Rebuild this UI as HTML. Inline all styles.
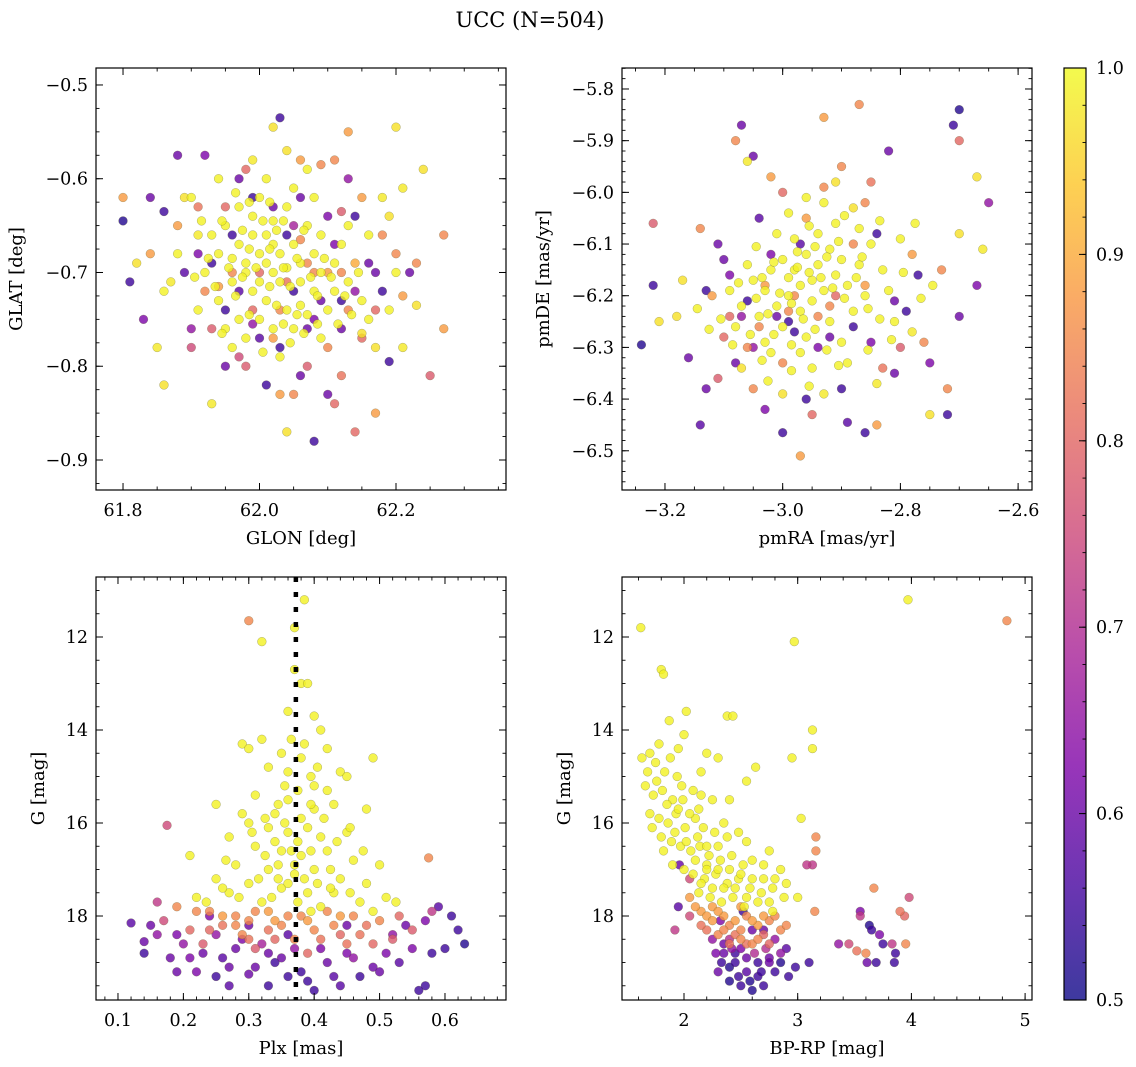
<!DOCTYPE html>
<html><head><meta charset="utf-8">
<style>
html,body{margin:0;padding:0;background:#fff;}
svg{display:block;font-family:"DejaVu Serif","Liberation Serif",serif;}
</style></head>
<body>
<svg id="fig" width="1136" height="1067" viewBox="0 0 1136 1067" xmlns="http://www.w3.org/2000/svg">
<defs>
<linearGradient id="cbgrad" x1="0" y1="1" x2="0" y2="0">
<stop offset="0" stop-color="#0d0887"/>
<stop offset="0.125" stop-color="#47039f"/>
<stop offset="0.25" stop-color="#7e03a8"/>
<stop offset="0.375" stop-color="#a82296"/>
<stop offset="0.5" stop-color="#cc4778"/>
<stop offset="0.625" stop-color="#e66c5c"/>
<stop offset="0.75" stop-color="#f89540"/>
<stop offset="0.875" stop-color="#fdc527"/>
<stop offset="1" stop-color="#f0f921"/>
</linearGradient>
</defs>
<text x="530" y="27" text-anchor="middle" font-size="21">UCC (N=504)</text>
<g id="layer"></g>
</svg>
<script>
// ---- data: [x, y, probability] ----
const posData = [
[61.80,-0.645,0.52],[61.81,-0.71,0.55],[61.88,-0.575,0.6],[61.92,-0.575,0.62],[62.03,-0.535,0.55],[62.08,-0.88,0.55],[62.06,-0.81,0.6],[62.19,-0.795,0.55],[62.22,-0.70,0.6],[61.86,-0.635,0.55],[61.83,-0.75,0.62],[61.89,-0.70,0.58],[61.99,-0.62,0.55],[62.02,-0.63,0.6],[62.10,-0.64,0.62],[62.14,-0.72,0.65],[61.95,-0.74,0.55],[62.07,-0.76,0.6],[62.00,-0.77,0.58],[62.13,-0.60,0.65],[61.97,-0.60,0.6],[62.12,-0.76,0.6],[61.93,-0.69,0.55],[62.05,-0.72,0.55],[62.16,-0.69,0.6],[61.90,-0.76,0.65],[62.03,-0.78,0.55],[62.11,-0.67,0.62],[61.96,-0.66,0.55],[62.09,-0.73,0.6],[61.84,-0.62,0.6],[62.05,-0.65,0.68],[62.18,-0.72,0.55],
[61.80,-0.62,0.88],[62.27,-0.66,0.85],[62.27,-0.76,0.88],[62.25,-0.81,0.78],[62.05,-0.83,0.85],[62.11,-0.84,0.8],[62.17,-0.85,0.88],[62.14,-0.87,0.8],[61.90,-0.78,0.75],[61.84,-0.68,0.88],[62.13,-0.55,0.88],[62.09,-0.585,0.85],[62.18,-0.66,0.85],[62.21,-0.725,0.88],[61.98,-0.80,0.78],[62.03,-0.74,0.85],[62.08,-0.70,0.85],[61.94,-0.715,0.88],[62.06,-0.665,0.85],[62.00,-0.70,0.8],[62.12,-0.70,0.85],[62.17,-0.74,0.8],[61.88,-0.65,0.88],[62.15,-0.62,0.88],[61.95,-0.63,0.8],[62.03,-0.83,0.88],[62.10,-0.78,0.85],[61.92,-0.72,0.85],[62.07,-0.80,0.78],[61.98,-0.59,0.8],[62.12,-0.635,0.78],[62.14,-0.69,0.9],
[61.86,-0.82,0.97],[61.93,-0.84,0.98],[62.04,-0.87,0.97],[62.20,-0.545,0.97],[62.21,-0.78,0.98],[62.23,-0.735,0.97],[62.19,-0.64,0.97],[62.21,-0.61,0.98],[61.82,-0.69,0.97],[61.87,-0.71,0.98],[62.02,-0.545,0.97],[61.99,-0.58,0.98],[62.04,-0.57,0.97],[61.85,-0.78,0.98],[62.15,-0.765,0.97],[62.24,-0.59,0.97],[61.91,-0.66,0.98],[61.89,-0.62,0.97],[62.17,-0.78,0.97],[62.18,-0.62,0.98],
[61.95,-0.65,0.99],[61.97,-0.67,0.99],[61.99,-0.64,0.99],[62.01,-0.66,0.99],[62.03,-0.68,0.99],[62.05,-0.67,0.99],[61.98,-0.69,0.99],[62.00,-0.68,0.99],[62.02,-0.70,0.99],[62.04,-0.695,0.99],[62.06,-0.69,0.99],[62.08,-0.68,0.99],[61.96,-0.71,0.99],[61.99,-0.72,0.99],[62.01,-0.73,0.99],[62.03,-0.71,0.99],[62.06,-0.71,0.99],[62.09,-0.70,0.99],[62.11,-0.72,0.99],[61.97,-0.75,0.99],[62.00,-0.75,0.99],[62.02,-0.76,0.99],[62.04,-0.74,0.99],[62.07,-0.745,0.99],[61.94,-0.68,0.99],[61.92,-0.70,0.99],[61.93,-0.66,0.99],[62.00,-0.62,0.99],[62.02,-0.645,0.99],[62.04,-0.63,0.99],[62.07,-0.65,0.99],[62.09,-0.66,0.99],[62.11,-0.69,0.99],[62.13,-0.71,0.99],[62.10,-0.74,0.99],[61.98,-0.77,0.99],[61.95,-0.76,0.99],[61.94,-0.73,0.99],[62.05,-0.76,0.99],[62.08,-0.72,0.99],[61.99,-0.66,0.99],[62.02,-0.67,0.99],[62.00,-0.71,0.99],[61.97,-0.63,0.99],[62.01,-0.60,0.99],[62.05,-0.61,0.99],[62.15,-0.73,0.99],[62.16,-0.75,0.99],[61.96,-0.78,0.99],[62.03,-0.79,0.99],[62.09,-0.77,0.99],[61.91,-0.74,0.99],[62.12,-0.67,0.99],[62.06,-0.735,0.99],[62.01,-0.69,0.99],[61.98,-0.70,0.99]
];
const posDataExtra = [
[61.96,-0.685,0.99],[61.975,-0.655,0.99],[61.985,-0.675,0.99],[61.995,-0.695,0.99],[62.005,-0.645,0.99],[62.015,-0.675,0.99],[62.025,-0.655,0.99],[62.035,-0.695,0.99],[62.045,-0.715,0.99],[62.055,-0.685,0.99],[62.065,-0.655,0.99],[62.075,-0.705,0.99],[62.085,-0.725,0.99],[61.965,-0.725,0.99],[61.975,-0.705,0.99],[61.985,-0.745,0.99],[62.015,-0.715,0.99],[62.025,-0.735,0.99],[62.035,-0.755,0.99],[62.055,-0.745,0.99],[61.955,-0.695,0.99],[61.945,-0.645,0.99],[61.965,-0.615,0.99],[61.985,-0.625,0.99],[62.015,-0.625,0.99],[62.035,-0.645,0.99],[62.095,-0.685,0.99],[62.105,-0.705,0.99],[62.125,-0.725,0.99],[62.135,-0.745,0.99],[62.115,-0.755,0.99],[61.935,-0.715,0.99],[61.925,-0.685,0.99],[61.915,-0.645,0.99],[61.905,-0.705,0.99],[61.945,-0.765,0.99],[62.005,-0.785,0.99],[62.045,-0.775,0.99],[62.065,-0.765,0.99],[62.085,-0.755,0.99],[62.145,-0.70,0.99],[62.16,-0.66,0.99],[62.20,-0.70,0.99],[62.19,-0.74,0.99],[61.88,-0.68,0.99],[61.86,-0.72,0.99],[61.90,-0.62,0.99],[61.94,-0.60,0.99],[62.08,-0.62,0.99],[62.13,-0.65,0.99],[62.07,-0.59,0.99],
[61.96,-0.70,0.85],[61.99,-0.74,0.8],[62.04,-0.71,0.82],[62.07,-0.69,0.85],[62.10,-0.70,0.88],[62.13,-0.74,0.85],[62.15,-0.77,0.8],[62.02,-0.77,0.88],[61.93,-0.76,0.78],[61.97,-0.79,0.75],[62.11,-0.58,0.85],[62.06,-0.58,0.88],[61.91,-0.63,0.82],[62.12,-0.81,0.82],[62.20,-0.68,0.85],[62.23,-0.69,0.85],
[61.97,-0.72,0.58],[62.04,-0.66,0.55],[62.08,-0.75,0.62],[61.95,-0.80,0.6],[62.01,-0.82,0.55],[62.10,-0.83,0.6],[62.14,-0.64,0.55],[62.06,-0.62,0.6],[61.91,-0.68,0.62],[62.12,-0.73,0.55],[62.17,-0.70,0.6],[61.99,-0.755,0.65]
];
const pmData = [
[-3.24,-6.295,0.52],[-3.22,-6.18,0.55],[-3.14,-6.45,0.58],[-3.07,-5.87,0.6],[-3.00,-6.465,0.55],[-2.70,-5.84,0.52],[-2.71,-5.87,0.55],[-2.72,-6.43,0.55],[-2.65,-6.02,0.65],[-2.67,-6.18,0.62],[-2.86,-6.465,0.55],[-2.89,-6.445,0.58],[-3.13,-6.19,0.55],[-3.10,-6.13,0.6],[-3.08,-6.33,0.6],[-3.04,-6.05,0.58],[-2.96,-6.40,0.55],[-2.81,-6.35,0.6],[-2.75,-6.33,0.62],[-2.82,-5.92,0.6],[-3.03,-6.42,0.62],[-3.16,-6.32,0.6],[-2.99,-6.25,0.55],[-2.92,-6.28,0.6],[-2.88,-6.26,0.55],[-3.06,-6.21,0.55],[-2.84,-6.08,0.55],[-3.02,-6.12,0.62],[-2.79,-6.23,0.55],[-2.70,-6.24,0.6],[-3.05,-5.93,0.6],[-2.94,-6.30,0.62],
[-2.87,-5.83,0.85],[-2.93,-5.855,0.88],[-3.08,-5.90,0.85],[-2.97,-6.51,0.88],[-3.22,-6.06,0.78],[-2.70,-5.90,0.8],[-2.73,-6.15,0.85],[-2.72,-6.38,0.85],[-2.84,-6.45,0.88],[-3.14,-6.07,0.85],[-2.80,-6.30,0.78],[-3.04,-6.26,0.85],[-2.92,-6.22,0.85],[-2.96,-6.05,0.88],[-3.10,-6.28,0.8],[-2.86,-6.18,0.88],[-2.90,-5.95,0.85],[-3.00,-6.33,0.85],[-2.78,-6.12,0.88],[-3.12,-6.20,0.88],[-2.85,-5.98,0.82],[-3.05,-6.38,0.85],[-2.98,-6.20,0.85],
[-3.21,-6.25,0.97],[-3.18,-6.24,0.97],[-3.06,-5.94,0.98],[-2.67,-5.97,0.97],[-2.66,-6.11,0.98],[-2.70,-6.08,0.97],[-2.75,-6.43,0.97],[-2.93,-6.39,0.98],[-2.91,-5.98,0.97],[-2.78,-6.27,0.98],[-3.07,-6.34,0.97],[-3.17,-6.17,0.97],[-3.00,-6.39,0.97],[-2.84,-6.37,0.98],[-2.88,-6.03,0.97],
[-3.00,-6.13,0.99],[-2.98,-6.15,0.99],[-2.96,-6.12,0.99],[-2.94,-6.14,0.99],[-2.92,-6.11,0.99],[-2.90,-6.13,0.99],[-2.97,-6.18,0.99],[-2.95,-6.17,0.99],[-2.93,-6.19,0.99],[-2.91,-6.16,0.99],[-2.89,-6.18,0.99],[-2.99,-6.20,0.99],[-3.01,-6.22,0.99],[-2.97,-6.23,0.99],[-2.95,-6.21,0.99],[-3.03,-6.19,0.99],[-3.05,-6.17,0.99],[-3.02,-6.15,0.99],[-2.87,-6.14,0.99],[-2.86,-6.20,0.99],[-2.94,-6.08,0.99],[-2.98,-6.09,0.99],[-3.04,-6.24,0.99],[-3.00,-6.26,0.99],[-2.96,-6.28,0.99],[-2.92,-6.25,0.99],[-2.88,-6.23,0.99],[-3.07,-6.22,0.99],[-3.06,-6.14,0.99],[-2.91,-6.06,0.99],[-2.85,-6.10,0.99],[-2.83,-6.15,0.99],[-2.90,-6.29,0.99],[-2.97,-6.31,0.99],[-3.03,-6.29,0.99],[-2.99,-6.04,0.99],[-2.93,-6.02,0.99],[-2.87,-6.07,0.99],[-2.82,-6.19,0.99],[-3.09,-6.19,0.99],[-3.08,-6.26,0.99],[-2.95,-6.34,0.99],[-2.80,-6.09,0.99],[-2.81,-6.25,0.99],[-2.96,-6.01,0.99],[-3.01,-6.08,0.99],[-2.89,-6.33,0.99],[-3.02,-6.31,0.99]
];
const pmDataExtra = [
[-2.99,-6.165,0.99],[-2.975,-6.145,0.99],[-2.955,-6.155,0.99],[-2.935,-6.165,0.99],[-2.915,-6.185,0.99],[-2.895,-6.205,0.99],[-2.985,-6.215,0.99],[-3.005,-6.195,0.99],[-3.025,-6.235,0.99],[-3.045,-6.205,0.99],[-2.965,-6.245,0.99],[-2.945,-6.265,0.99],[-2.925,-6.125,0.99],[-2.905,-6.095,0.99],[-2.945,-6.105,0.99],[-2.975,-6.115,0.99],[-3.015,-6.135,0.99],[-3.035,-6.165,0.99],[-2.875,-6.165,0.99],[-2.865,-6.125,0.99],[-2.855,-6.225,0.99],[-2.835,-6.245,0.99],[-3.055,-6.275,0.99],[-3.015,-6.275,0.99],[-2.985,-6.295,0.99],[-2.925,-6.305,0.99],[-2.905,-6.335,0.99],[-2.985,-6.345,0.99],[-3.035,-6.325,0.99],[-3.085,-6.295,0.99],[-3.105,-6.245,0.99],[-3.075,-6.175,0.99],[-3.045,-6.105,0.99],[-2.955,-6.065,0.99],[-2.895,-6.045,0.99],[-2.835,-6.055,0.99],[-2.795,-6.155,0.99],[-2.765,-6.205,0.99],[-2.815,-6.285,0.99],[-2.855,-6.305,0.99],[-3.025,-6.365,0.99],[-2.955,-6.375,0.99],[-3.125,-6.265,0.99],[-3.145,-6.225,0.99],[-2.775,-6.06,0.99],[-2.745,-6.18,0.99],
[-2.99,-6.23,0.85],[-3.03,-6.18,0.88],[-2.94,-6.24,0.85],[-2.91,-6.20,0.8],[-3.06,-6.30,0.85],[-3.09,-6.24,0.8],[-2.88,-6.10,0.85],[-2.86,-6.02,0.85],[-3.11,-6.36,0.78],[-2.76,-6.29,0.85],[-3.00,-6.00,0.8],[-2.83,-6.34,0.82],[-3.02,-5.97,0.88],[-2.93,-5.99,0.85],[-2.95,-6.43,0.8],
[-3.01,-6.24,0.6],[-2.98,-6.27,0.55],[-3.09,-6.16,0.62],[-3.07,-6.24,0.65],[-2.97,-6.10,0.58],[-2.85,-6.29,0.62],[-2.81,-6.21,0.6],[-3.11,-6.10,0.6],[-2.90,-6.38,0.55],[-3.05,-6.30,0.65],[-2.77,-6.16,0.55],[-3.13,-6.38,0.6]
];
const plxData = [
[0.385,11.2,0.99],[0.30,11.65,0.85],[0.37,11.8,0.99],[0.32,12.1,0.99],[0.37,12.7,0.99],[0.38,13.0,0.99],[0.39,13.0,0.99],[0.36,13.6,0.99],[0.40,13.7,0.99],[0.41,14.0,0.99],[0.42,14.4,0.99],[0.29,14.3,0.99],[0.30,14.4,0.99],[0.32,14.2,0.99],[0.49,14.6,0.99],[0.38,14.6,0.99],[0.35,14.5,0.99],[0.36,14.9,0.99],[0.33,14.8,0.99],[0.44,14.9,0.99],[0.45,15.0,0.99],[0.25,15.6,0.99],[0.31,15.4,0.99],[0.40,15.2,0.99],[0.42,15.3,0.99],[0.36,15.5,0.99],[0.29,15.8,0.99],[0.34,15.8,0.99],[0.38,15.9,0.99],[0.43,15.6,0.99],[0.48,15.7,0.99],[0.30,16.0,0.99],[0.33,16.1,0.99],[0.36,16.2,0.99],[0.39,16.1,0.99],[0.41,16.3,0.99],[0.45,16.2,0.99],[0.27,16.3,0.99],[0.21,16.7,0.99],[0.31,16.5,0.99],[0.35,16.6,0.99],[0.38,16.7,0.99],[0.42,16.6,0.99],[0.46,16.8,0.99],[0.50,16.9,0.99],[0.28,16.9,0.99],[0.33,17.0,0.99],[0.37,17.1,0.99],[0.40,17.0,0.99],[0.44,17.2,0.99],[0.25,17.2,0.99],[0.30,17.3,0.99],[0.35,17.4,0.99],[0.39,17.5,0.99],[0.43,17.5,0.99],[0.48,17.3,0.99],[0.51,17.6,0.99],[0.22,17.6,0.99],[0.27,17.5,0.99],[0.32,17.7,0.99],[0.36,17.3,0.99],[0.41,17.8,0.99],[0.47,17.7,0.99],[0.34,16.4,0.99],[0.40,15.7,0.99],[0.37,16.9,0.99],
[0.175,16.05,0.75],[0.575,16.75,0.85],[0.19,17.8,0.85],[0.24,17.9,0.85],[0.28,18.0,0.85],[0.31,17.9,0.85],[0.34,18.1,0.88],[0.38,18.0,0.85],[0.42,17.9,0.85],[0.46,18.0,0.85],[0.50,18.1,0.85],[0.53,18.0,0.8],[0.21,18.3,0.8],[0.26,18.2,0.82],[0.29,18.4,0.85],[0.33,18.3,0.82],[0.37,18.5,0.85],[0.40,18.3,0.85],[0.44,18.4,0.8],[0.48,18.2,0.82],[0.52,18.5,0.78],[0.17,18.1,0.75],[0.23,18.6,0.78],[0.31,18.7,0.78],[0.39,18.8,0.8],[0.45,18.6,0.82],[0.55,18.3,0.78],[0.16,17.7,0.72],[0.58,17.9,0.72],
[0.12,18.15,0.58],[0.14,18.55,0.6],[0.14,18.8,0.55],[0.18,18.9,0.6],[0.16,18.4,0.65],[0.20,18.6,0.65],[0.22,19.2,0.62],[0.27,19.1,0.6],[0.30,19.25,0.6],[0.25,18.4,0.65],[0.28,18.7,0.6],[0.32,18.6,0.68],[0.35,18.9,0.6],[0.38,19.2,0.55],[0.41,18.7,0.62],[0.43,19.3,0.58],[0.46,18.9,0.65],[0.49,19.1,0.6],[0.52,18.4,0.65],[0.55,18.7,0.62],[0.58,18.8,0.55],[0.60,18.7,0.55],[0.63,18.6,0.52],[0.61,18.0,0.55],[0.59,17.8,0.58],[0.57,19.5,0.55],[0.56,19.6,0.55],[0.50,19.2,0.6],[0.44,19.5,0.58],[0.40,19.6,0.55],[0.34,19.0,0.55],[0.27,19.5,0.58],[0.33,19.5,0.55],[0.19,19.2,0.6],[0.24,18.0,0.62],[0.30,18.2,0.6],[0.36,18.4,0.58],[0.45,18.2,0.6],[0.57,18.1,0.62],[0.62,18.3,0.55]
];
const plxDataExtra = [
[0.355,15.2,0.99],[0.345,15.6,0.99],[0.375,15.3,0.99],[0.395,15.6,0.99],[0.415,15.9,0.99],[0.325,15.9,0.99],[0.355,16.0,0.99],[0.375,16.4,0.99],[0.395,16.6,0.99],[0.325,16.7,0.99],[0.345,16.9,0.99],[0.365,16.6,0.99],[0.385,17.2,0.99],[0.405,17.3,0.99],[0.425,17.0,0.99],[0.455,17.5,0.99],[0.345,17.2,0.99],[0.315,17.2,0.99],[0.285,17.6,0.99],[0.335,17.6,0.99],[0.375,17.7,0.99],[0.395,17.9,0.99],[0.435,16.4,0.99],[0.475,16.6,0.99],[0.455,16.1,0.99],[0.265,16.8,0.99],[0.305,16.2,0.99],[0.385,14.3,0.99],[0.405,14.8,0.99],[0.365,14.2,0.99],[0.395,15.0,0.99],[0.425,17.4,0.99],[0.49,17.9,0.99],[0.525,17.7,0.99],[0.235,17.7,0.99],[0.26,17.4,0.99],
[0.22,17.9,0.85],[0.26,18.0,0.88],[0.30,18.1,0.85],[0.35,18.2,0.85],[0.39,18.1,0.88],[0.43,18.2,0.85],[0.47,18.4,0.82],[0.33,17.9,0.88],[0.36,18.0,0.85],[0.41,18.5,0.82],[0.28,18.2,0.85],[0.24,18.3,0.8],[0.49,18.6,0.8],[0.34,18.5,0.8],[0.30,18.5,0.82],[0.44,18.0,0.88],
[0.15,18.2,0.6],[0.19,18.4,0.62],[0.23,18.8,0.6],[0.26,18.9,0.58],[0.29,18.5,0.62],[0.33,18.8,0.6],[0.37,18.7,0.65],[0.39,19.4,0.55],[0.42,19.0,0.6],[0.45,18.8,0.62],[0.47,19.3,0.55],[0.51,18.8,0.62],[0.53,19.0,0.58],[0.36,19.3,0.55],[0.31,19.1,0.6],[0.25,19.3,0.55],[0.21,18.9,0.62],[0.54,18.2,0.6]
];
const cmdData = [
[3.97,11.2,0.99],[4.84,11.65,0.85],[1.62,11.8,0.99],[1.80,12.7,0.99],[1.82,12.8,0.99],[2.97,12.1,0.99],[3.13,14.0,0.99],[3.13,14.4,0.99],[2.95,14.6,0.99],[3.16,16.3,0.85],[3.16,16.6,0.85],[3.13,16.9,0.72],[3.03,15.9,0.99],[2.63,14.8,0.99],[2.38,13.7,0.99],[2.43,13.7,0.99],
[1.63,14.6,0.99],[1.70,14.5,0.99],[1.75,14.7,0.99],[1.83,14.9,0.99],[1.88,14.6,0.99],[1.94,15.0,0.99],[1.66,15.2,0.99],[1.73,15.4,0.99],[1.81,15.3,0.99],[1.90,15.5,0.99],[1.98,15.2,0.99],[2.08,15.3,0.99],[2.15,15.4,0.99],[2.25,15.5,0.99],[2.40,15.5,0.99],[1.70,15.8,0.99],[1.78,15.9,0.99],[1.86,16.0,0.99],[1.93,15.8,0.99],[2.01,16.1,0.99],[2.10,15.9,0.99],[2.17,16.1,0.99],[2.27,16.2,0.99],[2.38,16.3,0.99],[2.48,16.2,0.99],[1.80,16.3,0.99],[1.89,16.4,0.99],[1.97,16.5,0.99],[2.06,16.6,0.99],[2.14,16.5,0.99],[2.22,16.7,0.99],[2.32,16.8,0.99],[2.42,16.7,0.99],[2.52,16.9,0.99],[2.60,16.8,0.99],[2.70,16.9,0.99],[1.90,16.9,0.99],[2.00,17.0,0.99],[2.08,17.1,0.99],[2.18,17.2,0.99],[2.28,17.1,0.99],[2.38,17.3,0.99],[2.48,17.2,0.99],[2.58,17.4,0.99],[2.68,17.5,0.99],[2.78,17.4,0.99],[2.88,17.6,0.99],[2.13,17.5,0.99],[2.23,17.6,0.99],[2.33,17.7,0.99],[2.43,17.6,0.99],[2.53,17.8,0.99],[2.80,17.2,0.99],[3.00,17.6,0.99],[2.30,14.6,0.99],[2.00,14.1,0.99],[2.20,14.5,0.99],[1.87,13.8,0.99],[2.02,13.6,0.99],
[2.05,17.6,0.88],[2.15,17.9,0.88],[2.25,17.8,0.88],[2.35,18.0,0.88],[2.45,18.1,0.88],[2.55,18.0,0.85],[2.65,18.2,0.88],[2.75,18.1,0.85],[2.85,18.3,0.85],[2.20,18.3,0.82],[2.30,18.4,0.85],[2.40,18.6,0.82],[2.50,18.5,0.85],[2.60,18.6,0.85],[2.70,18.4,0.8],[3.15,17.9,0.85],[3.67,17.4,0.85],[3.90,17.9,0.82],[3.94,18.0,0.8],[3.95,18.6,0.85],[3.52,18.75,0.82],[3.60,18.8,0.85],[3.45,18.6,0.75],[2.05,17.2,0.75],[1.92,18.3,0.72],[2.05,18.0,0.75],[3.98,17.6,0.75],
[1.95,17.8,0.58],[2.25,18.5,0.65],[2.35,18.8,0.6],[2.45,19.0,0.55],[2.55,19.2,0.58],[2.65,19.3,0.55],[2.75,18.9,0.6],[2.80,19.2,0.55],[2.90,18.7,0.58],[2.85,19.0,0.52],[2.98,19.1,0.55],[3.10,19.0,0.55],[2.50,19.5,0.55],[2.60,19.6,0.52],[2.70,19.5,0.55],[2.40,19.4,0.52],[2.30,19.2,0.6],[2.42,18.7,0.65],[2.62,18.8,0.7],[2.72,18.7,0.7],[3.55,18.0,0.72],[3.63,18.2,0.52],[3.65,18.3,0.55],[3.72,18.4,0.62],[3.75,18.6,0.55],[3.83,18.6,0.72],[3.86,18.8,0.55],[3.61,19.0,0.6],[3.69,19.0,0.55],[3.85,19.0,0.55],[3.36,18.6,0.65],[3.55,17.9,0.62],[2.70,18.3,0.6],[2.32,18.1,0.62],[2.52,17.9,0.55],[1.96,16.9,0.6],[3.08,16.9,0.72]
];
const cmdDataExtra = [
[1.76,15.1,0.99],[1.85,15.6,0.99],[1.95,15.7,0.99],[2.05,15.8,0.99],[1.92,16.2,0.99],[2.02,16.4,0.99],[2.12,16.3,0.99],[2.20,16.5,0.99],[2.30,16.5,0.99],[2.10,16.8,0.99],[2.20,16.9,0.99],[2.30,17.0,0.99],[2.40,17.0,0.99],[2.50,17.1,0.99],[2.60,17.2,0.99],[2.70,17.2,0.99],[2.15,17.3,0.99],[2.25,17.4,0.99],[2.35,17.4,0.99],[2.45,17.4,0.99],[2.55,17.6,0.99],[2.65,17.7,0.99],[2.75,17.7,0.99],[2.20,17.0,0.99],[1.99,15.5,0.99],[1.72,16.1,0.99],[1.82,16.6,0.99],[2.13,15.7,0.99],[2.35,16.0,0.99],[2.55,16.4,0.99],[2.75,16.6,0.99],[2.85,17.0,0.99],[2.90,17.3,0.99],[1.68,14.9,0.99],[1.78,14.3,0.99],[1.95,14.4,0.99],[2.15,14.9,0.99],[2.55,15.1,0.99],[2.78,17.9,0.99],
[2.10,17.8,0.88],[2.20,18.0,0.88],[2.30,17.9,0.88],[2.40,18.2,0.85],[2.50,18.3,0.85],[2.60,18.1,0.88],[2.70,18.0,0.88],[2.80,18.0,0.85],[2.45,18.4,0.82],[2.55,18.6,0.82],[2.65,18.5,0.85],[2.35,18.3,0.85],[2.25,18.1,0.88],[2.75,18.6,0.8],[2.90,18.2,0.85],[2.15,18.2,0.82],[2.50,17.8,0.88],
[2.35,18.6,0.6],[2.45,18.8,0.55],[2.55,18.9,0.6],[2.65,19.0,0.55],[2.40,19.1,0.52],[2.50,18.7,0.62],[2.60,18.3,0.6],[2.75,19.0,0.6],[2.85,18.8,0.65],[2.48,19.3,0.55],[2.58,19.4,0.52],[2.33,19.0,0.55],[2.28,18.8,0.62],[2.68,19.2,0.55],[2.92,19.3,0.55],[2.40,18.5,0.7],[2.80,18.5,0.65]
];
const posAll = posData.concat(posDataExtra);
const pmAll = pmData.concat(pmDataExtra);
const plxAll = plxData.concat(plxDataExtra);
const cmdAll = cmdData.concat(cmdDataExtra);
const posXTicks = [61.8,62.0,62.2], posYTicks = [-0.5,-0.6,-0.7,-0.8,-0.9];
const pmXTicks = [-3.2,-3.0,-2.8,-2.6], pmYTicks = [-5.8,-5.9,-6.0,-6.1,-6.2,-6.3,-6.4,-6.5];
const plxXTicks = [0.1,0.2,0.3,0.4,0.5,0.6], gTicks = [12,14,16,18];
const cmdXTicks = [2,3,4,5];
const cbTicks = [0.5,0.6,0.7,0.8,0.9,1.0];
const plxLine = 0.372;

const NS = 'http://www.w3.org/2000/svg';
const layer = document.getElementById('layer');
function mk(tag, attrs, parent){ const e=document.createElementNS(NS,tag); for(const k in attrs) e.setAttribute(k,attrs[k]); (parent||layer).appendChild(e); return e; }

const stops=[[0,[13,8,135]],[0.125,[71,3,159]],[0.25,[126,3,168]],[0.375,[168,34,150]],[0.5,[204,71,120]],[0.625,[230,108,92]],[0.75,[248,149,64]],[0.875,[253,197,39]],[1,[240,249,33]]];
function plasma(p){ let t=Math.max(0,Math.min(1,(p-0.5)/0.5)); for(let i=1;i<stops.length;i++){ if(t<=stops[i][0]){ const a=stops[i-1],b=stops[i]; const f=(t-a[0])/(b[0]-a[0]); const c=a[1].map((v,j)=>Math.round(v+(b[1][j]-v)*f)); return 'rgb('+c.join(',')+')'; } } return 'rgb(240,249,33)'; }

function fmt(v,d){ return (v<0?'\u2212':'')+Math.abs(v).toFixed(d); }

function panel(cfg){
  const g=mk('g',{});
  
  
  const L=cfg.L,T=cfg.T,W=cfg.W,H=cfg.H;
  const sx=v=>L+(v-cfg.x0)/(cfg.x1-cfg.x0)*W;
  const sy=cfg.inv ? (v=>T+(v-cfg.y0)/(cfg.y1-cfg.y0)*H) : (v=>T+(cfg.y0-v)/(cfg.y0-cfg.y1)*H);
  const pts=cfg.data.slice().sort((a,b)=>a[2]-b[2]);
  const clipId='clip'+cfg.name;
  const cp=mk('clipPath',{id:clipId},g); mk('rect',{x:L,y:T,width:W,height:H},cp);
  const pg=mk('g',{'clip-path':'url(#'+clipId+')'},g);
  
  
  pts.forEach(d=>{
    const c=mk('circle',{cx:sx(d[0]),cy:sy(d[1]),r:4.4,fill:plasma(d[2]),'fill-opacity':0.8,stroke:'#5a5a2a','stroke-opacity':0.6,'stroke-width':0.4},pg);
    
    
  });
  if(cfg.vline!==undefined){
    const ln=mk('line',{x1:sx(cfg.vline),x2:sx(cfg.vline),y1:T,y2:T+H,stroke:'#000','stroke-width':4.5,'stroke-dasharray':'5 10'},g);
    
    
  }
  mk('rect',{x:L,y:T,width:W,height:H,fill:'none',stroke:'#000','stroke-width':1.2},g);
  for(let v=Math.ceil(Math.min(cfg.x0,cfg.x1)/cfg.xm-1e-6)*cfg.xm; v<=Math.max(cfg.x0,cfg.x1)+1e-9; v+=cfg.xm){
    const x=sx(v); if(x<L||x>L+W) continue;
    mk('line',{x1:x,x2:x,y1:T+H,y2:T+H-3.5,stroke:'#000','stroke-width':0.9},g);
    mk('line',{x1:x,x2:x,y1:T,y2:T+3.5,stroke:'#000','stroke-width':0.9},g);
  }
  const ylo=Math.min(cfg.y0,cfg.y1), yhi=Math.max(cfg.y0,cfg.y1);
  for(let v=Math.ceil(ylo/cfg.ym-1e-6)*cfg.ym; v<=yhi+1e-9; v+=cfg.ym){
    const y=sy(v); if(y<T||y>T+H) continue;
    mk('line',{x1:L,x2:L+3.5,y1:y,y2:y,stroke:'#000','stroke-width':0.9},g);
    mk('line',{x1:L+W,x2:L+W-3.5,y1:y,y2:y,stroke:'#000','stroke-width':0.9},g);
  }
  cfg.xt.forEach(v=>{
    const x=sx(v);
    mk('line',{x1:x,x2:x,y1:T+H,y2:T+H-7,stroke:'#000','stroke-width':1},g);
    mk('line',{x1:x,x2:x,y1:T,y2:T+7,stroke:'#000','stroke-width':1},g);
    const t=mk('text',{x:x,y:T+H+26,'text-anchor':'middle','font-size':17.5},g); t.textContent=fmt(v,cfg.xd);
    
    
  });
  cfg.yt.forEach(v=>{
    const y=sy(v);
    mk('line',{x1:L,x2:L+7,y1:y,y2:y,stroke:'#000','stroke-width':1},g);
    mk('line',{x1:L+W,x2:L+W-7,y1:y,y2:y,stroke:'#000','stroke-width':1},g);
    const t=mk('text',{x:L-8,y:y+6,'text-anchor':'end','font-size':17.5},g); t.textContent=fmt(v,cfg.yd);
    
    
  });
  const xl=mk('text',{x:L+W/2,y:T+H+54,'text-anchor':'middle','font-size':18},g); xl.textContent=cfg.xl;
  
  
  const yx=cfg.ylx, yy=T+H/2;
  const yl=mk('text',{x:yx,y:yy,'text-anchor':'middle','font-size':18,transform:'rotate(-90 '+yx+' '+yy+')'},g); yl.textContent=cfg.yl;
  
  
}

panel({name:'panel-glon-glat',L:96,T:68,W:410,H:422,x0:61.7604,x1:62.3612,y0:-0.4819,y1:-0.932,inv:false,xm:0.05,ym:0.025,xt:posXTicks,yt:posYTicks,xd:1,yd:1,data:posAll,xl:'GLON [deg]',yl:'GLAT [deg]',ylx:22});
panel({name:'panel-pmra-pmde',L:622,T:68,W:410,H:422,x0:-3.273,x1:-2.5764,y0:-5.7594,y1:-6.5759,inv:false,xm:0.05,ym:0.02,xt:pmXTicks,yt:pmYTicks,xd:1,yd:1,data:pmAll,xl:'pmRA [mas/yr]',yl:'pmDE [mas/yr]',ylx:549});
panel({name:'panel-plx-g',L:96,T:577,W:410,H:423,x0:0.0664,x1:0.6933,y0:10.71,y1:19.806,inv:true,xm:0.02,ym:0.5,xt:plxXTicks,yt:gTicks,xd:1,yd:0,data:plxAll,xl:'Plx [mas]',yl:'G [mag]',ylx:44,vline:plxLine});
panel({name:'panel-cmd',L:622,T:577,W:410,H:423,x0:1.4547,x1:5.0607,y0:10.71,y1:19.806,inv:true,xm:0.2,ym:0.5,xt:cmdXTicks,yt:gTicks,xd:0,yd:0,data:cmdAll,xl:'BP-RP [mag]',yl:'G [mag]',ylx:570});

const cb=mk('g',{});


const CL=1064,CT=68,CW=22,CH=932;
const cy=v=>CT+(1.0-v)/0.5*CH;
mk('rect',{x:CL,y:CT,width:CW,height:CH,fill:'url(#cbgrad)','fill-opacity':0.8},cb);
mk('rect',{x:CL,y:CT,width:CW,height:CH,fill:'none',stroke:'#000','stroke-width':1.2},cb);
for(let v=0.52; v<0.999; v+=0.02){ mk('line',{x1:CL+CW,x2:CL+CW-3.5,y1:cy(v),y2:cy(v),stroke:'#000','stroke-width':0.9},cb); }
cbTicks.forEach(v=>{
  mk('line',{x1:CL+CW,x2:CL+CW-7,y1:cy(v),y2:cy(v),stroke:'#000','stroke-width':1},cb);
  const t=mk('text',{x:CL+CW+10,y:cy(v)+6,'font-size':17.5},cb); t.textContent=v.toFixed(1);
  
  
});
</script>
</body></html>
